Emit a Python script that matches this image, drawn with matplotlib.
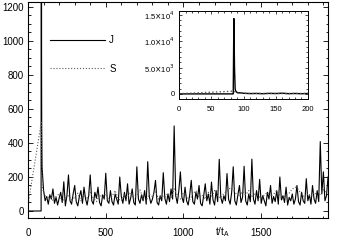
import matplotlib
matplotlib.use("Agg")
import matplotlib.pyplot as plt
from matplotlib.ticker import MultipleLocator, FixedLocator, FixedFormatter
import numpy as np

plt.rcParams['font.family'] = ['Liberation Sans', 'DejaVu Sans']

# ---- data ----
# start of run: J is zero, then the big burst near t=85
t_j_early = [0, 84, 85, 86, 87, 88]
j_early = [0, 0, 14300, 5000, 900, 500]
t_s_early = [0, 85, 90]
s_early = [40, 520, 150]

# after the burst, J every 10 t_A from 90 to 1930
t_j_late = np.arange(90, 1931, 10)
j_late = [
    260, 120, 60, 85, 40, 95, 70, 130, 45, 80,
    35, 75, 110, 50, 172, 30, 90, 212, 60, 40,
    100, 150, 55, 30, 85, 120, 45, 140, 70, 35,
    90, 212, 60, 40, 110, 75, 140, 50, 30, 95,
    70, 222, 60, 45, 120, 55, 35, 100, 70, 40,
    200, 85, 45, 110, 60, 160, 40, 75, 130, 50,
    35, 260, 70, 45, 95, 60, 120, 40, 290, 85,
    45, 70, 110, 180, 50, 35, 90, 60, 225, 75,
    40, 100, 55, 130, 70, 500, 90, 45, 120, 230,
    80, 50, 140, 60, 35, 95, 180, 55, 40, 110,
    70, 150, 45, 30, 90, 160, 60, 100, 40, 170,
    65, 35, 120, 55, 304, 80, 45, 90, 60, 220,
    70, 40, 110, 260, 60, 35, 95, 150, 50, 80,
    263, 60, 35, 100, 55, 305, 70, 40, 120, 60,
    186, 45, 90, 60, 30, 110, 70, 150, 45, 85,
    55, 120, 40, 200, 65, 90, 50, 140, 35, 80,
    60, 100, 40, 70, 150, 55, 35, 110, 60, 45,
    190, 60, 95, 40, 150, 70, 45, 120, 55, 408,
    100, 230, 60, 90, 200,
]

# S every 20 t_A from 100 to 1920
t_s_late = np.arange(100, 1921, 20)
s_late = [
    110, 70, 95, 60, 85, 100, 55, 75, 90, 65,
    80, 105, 60, 90, 70, 110, 75, 55, 95, 80,
    100, 65, 85, 120, 70, 60, 95, 80, 110, 70,
    90, 125, 75, 60, 100, 85, 115, 70, 90, 80,
    105, 75, 130, 95, 70, 110, 85, 65, 100, 120,
    80, 95, 70, 110, 85, 120, 90, 75, 105, 115,
    135, 125, 100, 85, 115, 95, 120, 80, 100, 90,
    75, 95, 110, 85, 100, 120, 90, 70, 95, 105,
    130, 140, 125, 95, 80, 100, 85, 110, 90, 100,
    125, 110,
]

t_j = np.concatenate([t_j_early, t_j_late])
j = np.concatenate([j_early, j_late])
t_s = np.concatenate([t_s_early, t_s_late])
s = np.concatenate([s_early, s_late])

inset_yticks = [0, 5000, 10000, 15000]
inset_ylabels = ['0', r'5.0$\times$10$^3$', r'1.0$\times$10$^4$', r'1.5$\times$10$^4$']

# ---- figure ----
fig = plt.figure(figsize=(3.38, 2.43), dpi=100)
ax = fig.add_axes([0.083, 0.103, 0.888, 0.889])

ax.plot(t_j, j, color='black', lw=0.8, label='J')
ax.plot(t_s, s, color='0.35', lw=0.8, ls=':', label='S')

ax.set_xlim(0, 1931)
ax.set_ylim(-41, 1229)
ax.xaxis.set_major_locator(MultipleLocator(500))
ax.xaxis.set_minor_locator(MultipleLocator(100))
ax.yaxis.set_major_locator(MultipleLocator(200))
ax.yaxis.set_minor_locator(MultipleLocator(50))
ax.tick_params(which='both', direction='in', top=True, right=True, labelsize=7, width=0.6)
ax.tick_params(which='major', length=3.5)
ax.tick_params(which='minor', length=1.8)
ax.tick_params(axis='x', pad=7)
ax.tick_params(axis='y', pad=3)
for sp in ax.spines.values():
    sp.set_linewidth(0.8)

ax.text(1250, -0.065, r't/t$_\mathregular{A}$', transform=ax.get_xaxis_transform(),
        ha='center', va='center', fontsize=7)

ax.legend(loc='upper left', bbox_to_anchor=(0.073, 0.845), frameon=False, fontsize=7,
          handlelength=5.7, handletextpad=0.4, labelspacing=1.9,
          borderpad=0, borderaxespad=0)

# inset with the whole burst
ins = fig.add_axes([0.530, 0.593, 0.381, 0.362])
ins.plot(t_j, j, color='black', lw=1.0)
ins.plot(t_s, s, color='0.35', lw=1.0, ls=':')
ins.set_xlim(0, 200)
ins.set_ylim(-950, 15760)
ins.xaxis.set_major_locator(MultipleLocator(50))
ins.xaxis.set_minor_locator(MultipleLocator(10))
ins.yaxis.set_major_locator(FixedLocator(inset_yticks))
ins.yaxis.set_major_formatter(FixedFormatter(inset_ylabels))
ins.yaxis.set_minor_locator(MultipleLocator(1000))
ins.tick_params(which='both', direction='in', top=True, right=True, labelsize=5.5, width=0.5)
ins.tick_params(which='major', length=2.5)
ins.tick_params(which='minor', length=1.3)
ins.tick_params(axis='x', pad=5)
ins.tick_params(axis='y', pad=3)
for sp in ins.spines.values():
    sp.set_linewidth(0.7)

fig.savefig('out.png', dpi=100)
